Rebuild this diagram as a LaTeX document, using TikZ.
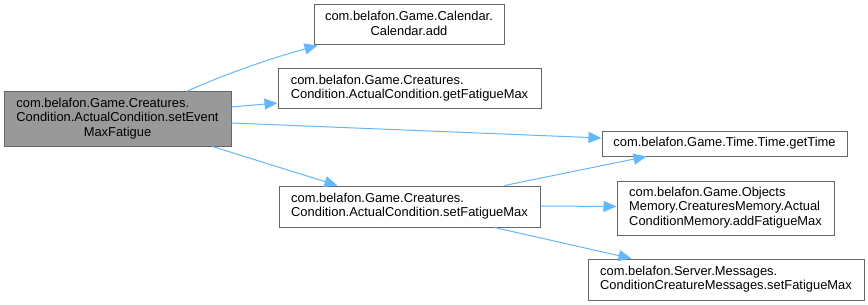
\documentclass[tikz,border=0pt]{standalone}
\usepackage{fontspec}
\setmainfont{Liberation Sans}
\usetikzlibrary{arrows.meta,calc}

\definecolor{edgeblue}{HTML}{63B8FF}
\definecolor{boxline}{HTML}{666666}
\definecolor{mainfill}{HTML}{999999}

% left-aligned lines, last line centred
\newcommand{\boxlines}[2]{\begin{tabular}{@{}l@{}}#1\multicolumn{1}{@{}c@{}}{#2}\end{tabular}}

\tikzset{
  callhead/.tip={Triangle[length=13pt,width=11pt]}
}

\begin{document}
\begin{tikzpicture}[x=1pt,y=1pt,
  fn/.style={draw=boxline, fill=white, line width=1pt, inner sep=0pt,
    font=\fontsize{12.9}{14.6}\selectfont, anchor=center},
  focus/.style={fn, fill=mainfill},
  call/.style={draw=edgeblue, line width=1pt, -callhead}
]
\fill[white] (0,0) rectangle (868,-305);
\useasboundingbox (0,0) rectangle (868,-305);

\renewcommand{\arraystretch}{1}
\setlength{\tabcolsep}{0pt}

\node[focus, minimum width=227, minimum height=54] (main) at (117.5,-119)
  {\boxlines{com.belafon.Game.Creatures.\\Condition.ActualCondition.setEvent\\}{MaxFatigue}};
\node[fn, minimum width=190, minimum height=40] (cal) at (409,-25)
  {\boxlines{com.belafon.Game.Calendar.\\}{Calendar.add}};
\node[fn, minimum width=263, minimum height=39] (getfm) at (409.5,-88.5)
  {\boxlines{com.belafon.Game.Creatures.\\}{Condition.ActualCondition.getFatigueMax}};
\node[fn, minimum width=261, minimum height=41] (setfm) at (409.5,-206.5)
  {\boxlines{com.belafon.Game.Creatures.\\}{Condition.ActualCondition.setFatigueMax}};
\node[fn, minimum width=245, minimum height=25] (gettime) at (724.5,-143.5)
  {com.belafon.Game.Time.Time.getTime};
\node[fn, minimum width=217, minimum height=54] (addfm) at (725.5,-208)
  {\boxlines{com.belafon.Game.Objects\\Memory.CreaturesMemory.Actual\\}{ConditionMemory.addFatigueMax}};
\node[fn, minimum width=276, minimum height=41] (srv) at (726,-279.5)
  {\boxlines{com.belafon.Server.Messages.\\}{ConditionCreatureMessages.setFatigueMax}};

% calls made by setEventMaxFatigue
\draw[call] ($(main.north west)+(183,0)$)
  .. controls ($(main.north west)+(220,17)$) and ($(cal.south west)+(-40,-12)$)
  .. ($(cal.south west)+(4,0)$);
\draw[call] ($(main.east)+(0,12)$) -- ($(getfm.west)+(0,-14.5)$);
\draw[call] ($(main.east)+(0,-4)$) -- ($(gettime.west)+(0,5.5)$);
\draw[call] ($(main.south west)+(209,0)$) -- ($(setfm.north west)+(59,0)$);

% calls made by setFatigueMax
\draw[call] ($(setfm.north west)+(226,0)$) -- ($(gettime.south west)+(45,0)$);
\draw[call] ($(setfm.east)+(0,0.5)$) -- ($(addfm.west)+(0,1.5)$);
\draw[call] ($(setfm.south west)+(216,0)$) -- ($(srv.north west)+(44,0)$);
\end{tikzpicture}
\end{document}
